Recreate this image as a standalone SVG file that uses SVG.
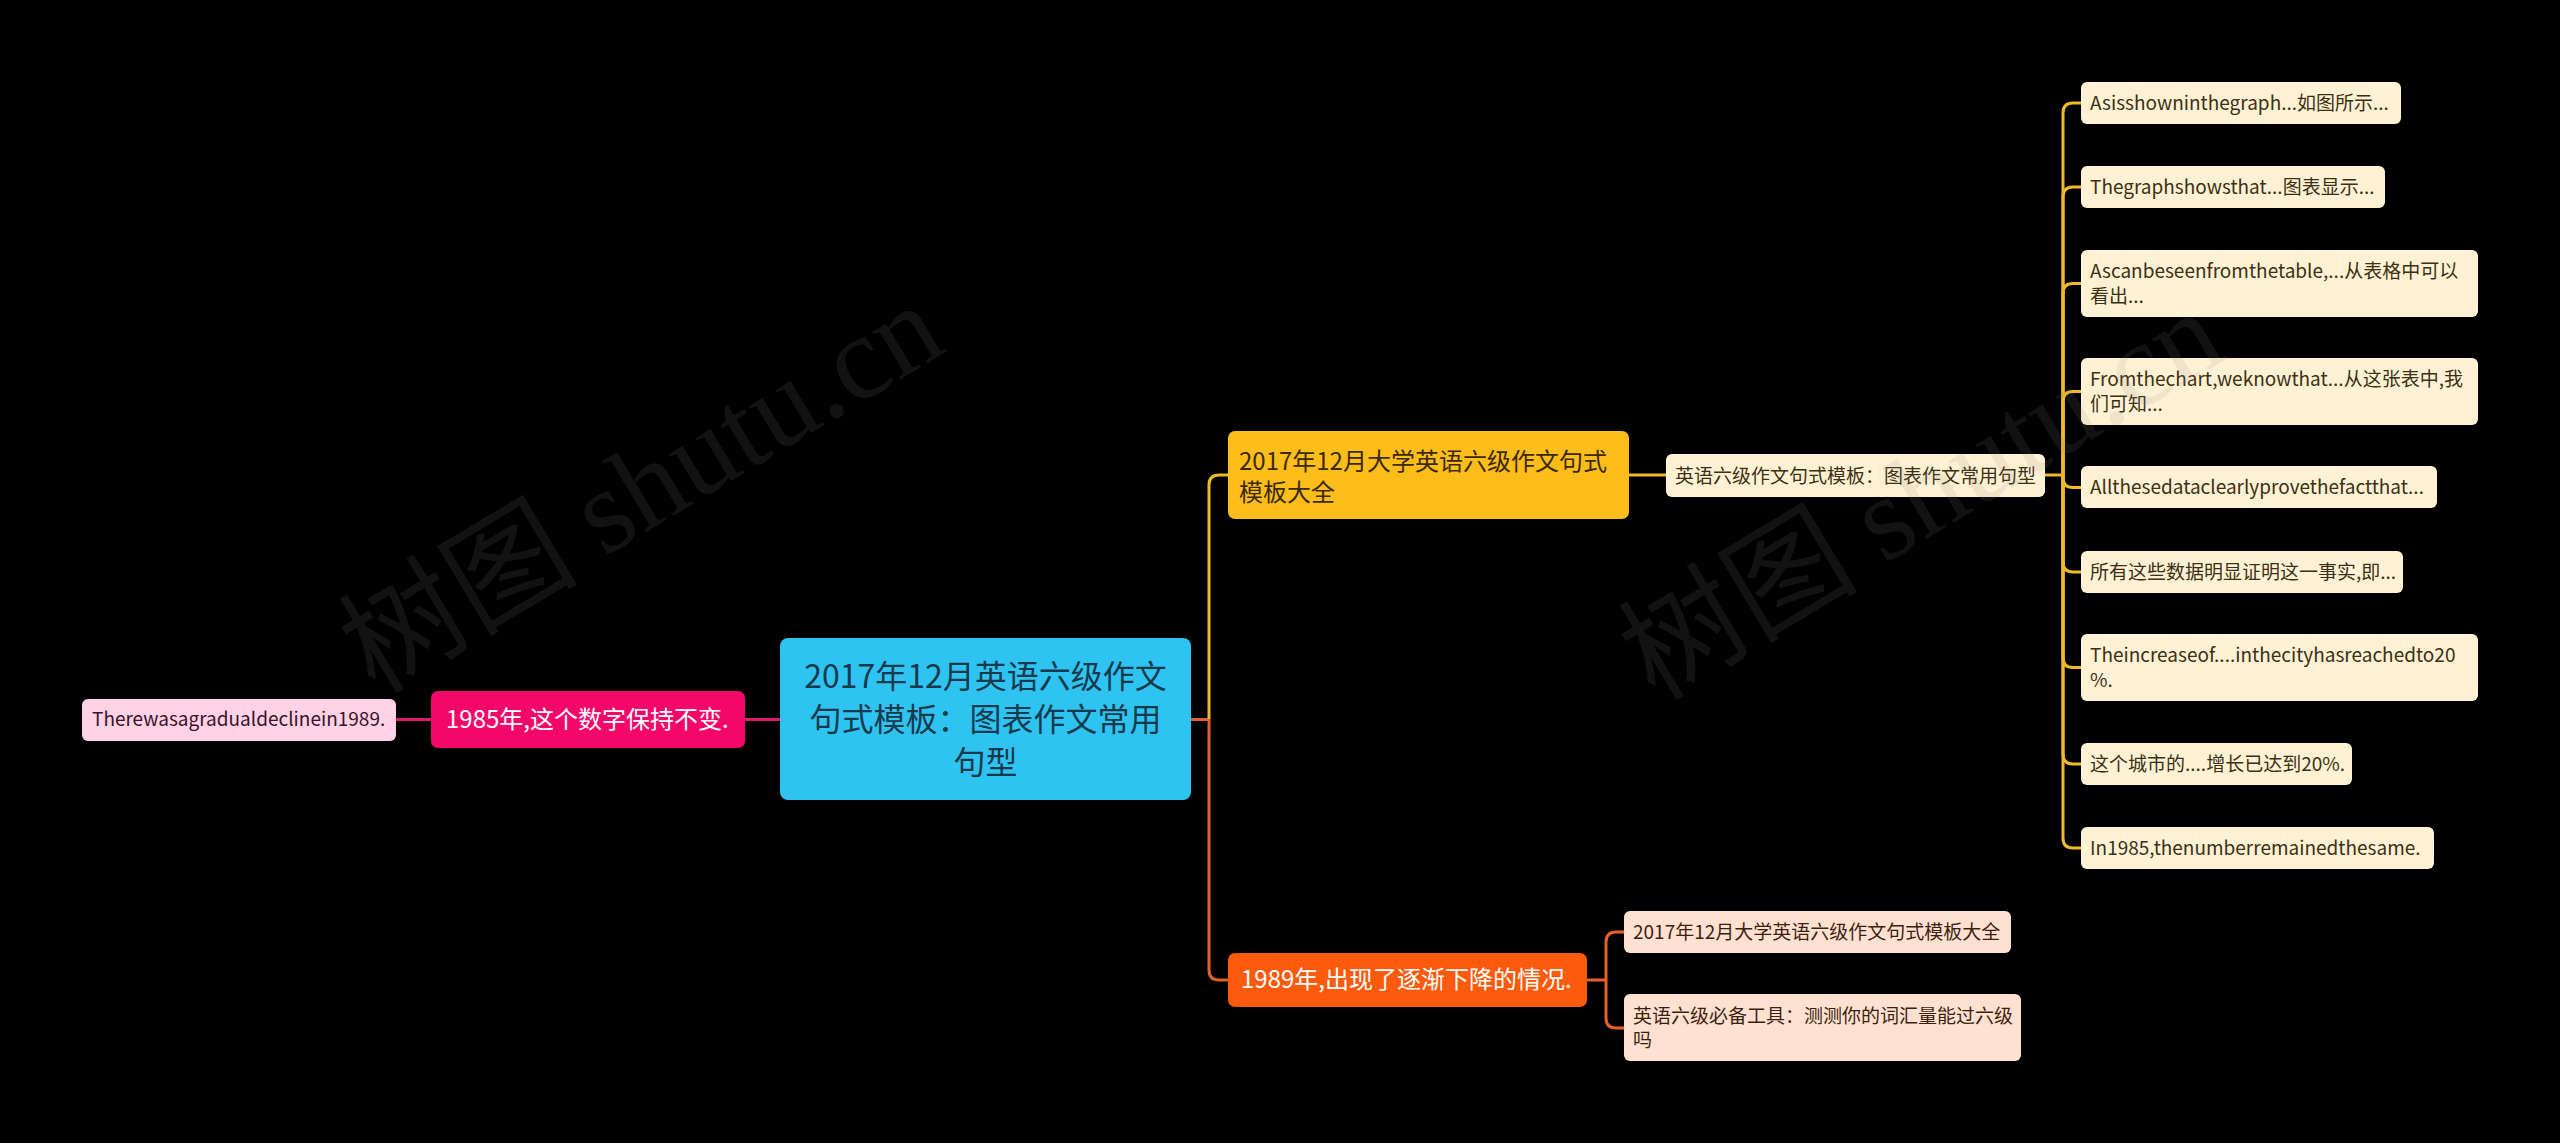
<svg xmlns="http://www.w3.org/2000/svg" width="2560" height="1143" viewBox="0 0 2560 1143">
<style>
text{font-family:"Noto Sans CJK SC","Noto Sans",sans-serif;}
.leafY{fill:#FFF2D4;}
.leafO{fill:#FFE1D2;}
.leafP{fill:#FFD2E6;}
.tY{fill:#3b3014;font-size:19px;}
.tO{fill:#3d1f10;font-size:19px;}
.tP{fill:#3a1428;font-size:19px;}
.main{font-size:24px;}
.cy{fill:none;stroke:#F0B92A;stroke-width:3;}
.co{fill:none;stroke:#E2602A;stroke-width:3;}
.cp{fill:none;stroke:#E0186A;stroke-width:3;}
.wm{fill:#888;opacity:0.13;font-size:120px;}
</style>
<rect x="0" y="0" width="2560" height="1143" fill="#000"/>

<g id="connectors">
<path class="cp" d="M396,719.5 H431"/>
<path class="cp" d="M745,719.5 H780"/>
<path class="co" d="M1191,719.5 H1209"/>
<path class="cy" d="M1209,719.5 V485 Q1209,475 1219,475 H1228"/>
<path class="co" d="M1209,719.5 V970 Q1209,980 1219,980 H1228"/>
<path class="cy" d="M1629,475 H1666"/>
<path class="cy" d="M2045,475 H2063"/>
<path class="cy" d="M2063,475 V113 Q2063,103 2073,103 H2081"/>
<path class="cy" d="M2063,475 V197 Q2063,187 2073,187 H2081"/>
<path class="cy" d="M2063,475 V293.5 Q2063,283.5 2073,283.5 H2081"/>
<path class="cy" d="M2063,475 V401.5 Q2063,391.5 2073,391.5 H2081"/>
<path class="cy" d="M2063,475 V477.5 Q2063,487.5 2073,487.5 H2081"/>
<path class="cy" d="M2063,475 V562 Q2063,572 2073,572 H2081"/>
<path class="cy" d="M2063,475 V657.5 Q2063,667.5 2073,667.5 H2081"/>
<path class="cy" d="M2063,475 V754 Q2063,764 2073,764 H2081"/>
<path class="cy" d="M2063,475 V838 Q2063,848 2073,848 H2081"/>
<path class="co" d="M1587,980 H1606"/>
<path class="co" d="M1606,980 V942 Q1606,932 1616,932 H1624"/>
<path class="co" d="M1606,980 V1018 Q1606,1028 1616,1028 H1624"/>
</g>

<g id="center">
<rect x="780" y="638" width="411" height="162" rx="8" fill="#2FC3F2"/>
<text x="985.5" y="688" font-size="32" text-anchor="middle" fill="#173a4c">2017年12月英语六级作文</text>
<text x="985.5" y="731" font-size="32" text-anchor="middle" fill="#173a4c">句式模板：图表作文常用</text>
<text x="985.5" y="774" font-size="32" text-anchor="middle" fill="#173a4c">句型</text>
</g>

<g id="n-1985">
<rect x="431" y="691" width="314" height="57" rx="7" fill="#F3086A"/>
<text class="main" x="446" y="728" fill="#fff">1985年,这个数字保持不变.</text>
</g>
<g id="n-decline">
<rect class="leafP" x="82" y="699" width="314" height="42" rx="6"/>
<text class="tP" x="92" y="726">Therewasagradualdeclinein1989.</text>
</g>

<g id="n-2017">
<rect x="1228" y="431" width="401" height="88" rx="7" fill="#FDBD1A"/>
<text class="main" x="1239" y="470" fill="#3a2a05">2017年12月大学英语六级作文句式</text>
<text class="main" x="1239" y="501" fill="#3a2a05">模板大全</text>
</g>
<g id="n-template">
<rect class="leafY" x="1666" y="454" width="379" height="43" rx="6"/>
<text class="tY" x="1675" y="483">英语六级作文句式模板：图表作文常用句型</text>
</g>

<g id="n-l1"><rect class="leafY" x="2081" y="82" width="320" height="42" rx="6"/><text class="tY" x="2090" y="110">Asisshowninthegraph...如图所示...</text></g>
<g id="n-l2"><rect class="leafY" x="2081" y="166" width="304" height="42" rx="6"/><text class="tY" x="2090" y="194">Thegraphshowsthat...图表显示...</text></g>
<g id="n-l3"><rect class="leafY" x="2081" y="250" width="397" height="67" rx="6"/><text class="tY" x="2090" y="278">Ascanbeseenfromthetable,...从表格中可以</text><text class="tY" x="2090" y="303">看出...</text></g>
<g id="n-l4"><rect class="leafY" x="2081" y="358" width="397" height="67" rx="6"/><text class="tY" x="2090" y="386">Fromthechart,weknowthat...从这张表中,我</text><text class="tY" x="2090" y="411">们可知...</text></g>
<g id="n-l5"><rect class="leafY" x="2081" y="466" width="356" height="42" rx="6"/><text class="tY" x="2090" y="494">Allthesedataclearlyprovethefactthat...</text></g>
<g id="n-l6"><rect class="leafY" x="2081" y="551" width="322" height="42" rx="6"/><text class="tY" x="2090" y="579">所有这些数据明显证明这一事实,即...</text></g>
<g id="n-l7"><rect class="leafY" x="2081" y="634" width="397" height="67" rx="6"/><text class="tY" x="2090" y="662">Theincreaseof....inthecityhasreachedto20</text><text class="tY" x="2090" y="687">%.</text></g>
<g id="n-l8"><rect class="leafY" x="2081" y="743" width="271" height="42" rx="6"/><text class="tY" x="2090" y="771">这个城市的....增长已达到20%.</text></g>
<g id="n-l9"><rect class="leafY" x="2081" y="827" width="353" height="42" rx="6"/><text class="tY" x="2090" y="855">In1985,thenumberremainedthesame.</text></g>

<g id="n-1989">
<rect x="1228" y="953" width="359" height="54" rx="7" fill="#FC5A0C"/>
<text class="main" x="1241" y="988" fill="#fff">1989年,出现了逐渐下降的情况.</text>
</g>
<g id="n-o1"><rect class="leafO" x="1624" y="911" width="387" height="42" rx="6"/><text class="tO" x="1633" y="939">2017年12月大学英语六级作文句式模板大全</text></g>
<g id="n-o2"><rect class="leafO" x="1624" y="994" width="397" height="67" rx="6"/><text class="tO" x="1633" y="1023">英语六级必备工具：测测你的词汇量能过六级</text><text class="tO" x="1633" y="1047">吗</text></g>

<g id="watermark">
<text class="wm" transform="translate(375,695) rotate(-31)">树图 <tspan font-family="Liberation Serif,serif">shutu.cn</tspan></text>
<text class="wm" transform="translate(1655,702) rotate(-31)">树图 <tspan font-family="Liberation Serif,serif">shutu.cn</tspan></text>
</g>
</svg>
